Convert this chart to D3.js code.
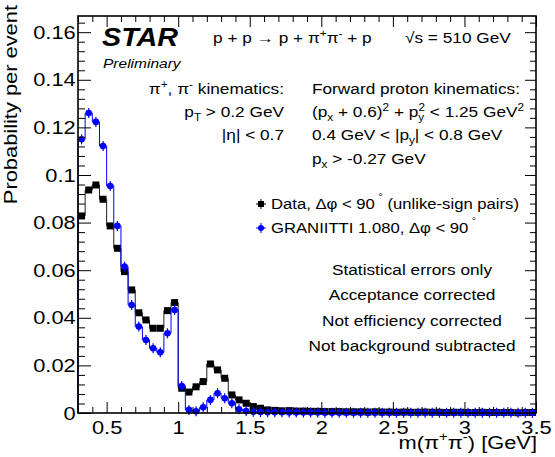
<!DOCTYPE html>
<html>
<head>
<meta charset="utf-8">
<script src="https://cdn.jsdelivr.net/npm/d3@7"></script>
<style>
  body { margin: 0; background: #fff; }
  text { font-family: "Liberation Sans", Arial, Helvetica, sans-serif; fill: #000; }
</style>
</head>
<body>
<div id="chart"></div>
<script>
// bin centres of m(pi+pi-) in GeV (bin width 0.05)
const massBins = [
  0.325, 0.375, 0.425, 0.475, 0.525, 0.575, 0.625, 0.675, 0.725, 0.775,
  0.825, 0.875, 0.925, 0.975, 1.025, 1.075, 1.125, 1.175, 1.225, 1.275,
  1.325, 1.375, 1.425, 1.475, 1.525, 1.575, 1.625, 1.675, 1.725, 1.775,
  1.825, 1.875, 1.925, 1.975, 2.025, 2.075, 2.125, 2.175, 2.225, 2.275,
  2.325, 2.375, 2.425, 2.475, 2.525, 2.575, 2.625, 2.675, 2.725, 2.775,
  2.825, 2.875, 2.925, 2.975, 3.025, 3.075, 3.125, 3.175, 3.225, 3.275,
  3.325, 3.375, 3.425, 3.475
];

// Data, dphi < 90 (unlike-sign pairs)
const dataProb = [
  0.0828, 0.0937, 0.0958, 0.0898, 0.0786, 0.0692, 0.0594, 0.0517, 0.0421, 0.0391,
  0.0356, 0.0356, 0.0430, 0.0464, 0.0104, 0.0088, 0.0110, 0.0132, 0.0206, 0.0181,
  0.0146, 0.0076, 0.0055, 0.0041, 0.0027, 0.0020, 0.0013, 0.0011, 0.0009, 0.0010,
  0.0008, 0.0008, 0.0007, 0.0007, 0.0006, 0.0006, 0.0006, 0.0005, 0.0005, 0.0005,
  0.0004, 0.0005, 0.0004, 0.0004, 0.0003, 0.0004, 0.0003, 0.0003, 0.0004, 0.0003,
  0.0003, 0.0002, 0.0003, 0.0003, 0.0002, 0.0002, 0.0003, 0.0002, 0.0002, 0.0002,
  0.0002, 0.0001, 0.0002, 0.0002
];

// GRANIITTI 1.080, dphi < 90
const graniittiProb = [
  0.1150, 0.1260, 0.1223, 0.1122, 0.0954, 0.0786, 0.0615, 0.0454, 0.0363, 0.0307,
  0.0272, 0.0255, 0.0335, 0.0433, 0.0113, 0.0013, 0.0007, 0.0024, 0.0055, 0.0083,
  0.0062, 0.0041, 0.0016, 0.0008, 0.0005, 0.0004, 0.0003, 0.0003, 0.0003, 0.0002,
  0.0002, 0.0002, 0.0002, 0.0002, 0.0001, 0.0001, 0.0001, 0.0001, 0.0001, 0.0001,
  0.0001, 0.0001, 0.0001, 0.0001, 0.0001, 0.0001, 0.0001, 0.0001, 0.0001, 0.0001,
  0.0001, 0.0001, 0.0001, 0.0001, 0.0001, 0.0001, 0.0001, 0.0001, 0.0001, 0.0001,
  0.0001, 0.0001, 0.0001, 0.0001
];

const xTickLabels = [0.5, 1, 1.5, 2, 2.5, 3, 3.5];
const yTickLabels = [0, 0.02, 0.04, 0.06, 0.08, 0.1, 0.12, 0.14, 0.16];

const width = 555, height = 457;
const margin = {top: 16, right: 19, bottom: 44, left: 78};
const binHalf = 0.025;
const SX = 1.15; // text is a bit wider than it is tall in the original

const svg = d3.select("#chart").append("svg")
    .attr("width", width)
    .attr("height", height);

const x = d3.scaleLinear().domain([0.3, 3.5]).range([margin.left, width - margin.right]);
const y = d3.scaleLinear().domain([0, 0.1668]).range([height - margin.bottom, margin.top]);

// text with sub/superscripts, stretched along its direction
function rich(parent, px, py, parts, opts = {}) {
    const size = opts.size || 15;
    const g = parent.append("g")
        .attr("transform", `translate(${px},${py})` + (opts.rotate ? ` rotate(${opts.rotate})` : "") + ` scale(${SX},1)`);
    const t = g.append("text")
        .attr("font-size", size)
        .attr("text-anchor", opts.anchor || "start")
        .attr("font-weight", opts.weight || null)
        .attr("font-style", opts.style || null);
    let cur = 0;
    parts.forEach(p => {
        const [str, kind, dx] = typeof p === "string" ? [p, null, 0] : p;
        const shift = kind === "sup" ? -0.42 : kind === "sub" ? 0.28 : kind === "deg" ? -0.62 : 0;
        const ts = t.append("tspan").text(str)
            .attr("dy", ((shift - cur) * size).toFixed(2));
        if (kind) ts.attr("font-size", size * 0.68);
        if (dx) ts.attr("dx", dx);
        cur = shift;
    });
    return t;
}

// histograms as steps
function stepPoints(vals) {
    const pts = [[x(massBins[0] - binHalf), y(0)]];
    massBins.forEach((m, i) => {
        pts.push([x(m - binHalf), y(vals[i])]);
        pts.push([x(m + binHalf), y(vals[i])]);
    });
    pts.push([x(massBins[massBins.length - 1] + binHalf), y(0)]);
    return pts;
}
const line = d3.line();

svg.append("path")
    .attr("d", line(stepPoints(dataProb)))
    .attr("fill", "none")
    .attr("stroke", "#222")
    .attr("stroke-width", 1);

svg.append("g").selectAll("rect")
    .data(massBins)
    .join("rect")
    .attr("x", (d) => x(d) - 3.5)
    .attr("y", (d, i) => y(dataProb[i]) - 3.5)
    .attr("width", 7)
    .attr("height", 7)
    .attr("fill", "#000");

svg.append("path")
    .attr("d", line(stepPoints(graniittiProb)))
    .attr("fill", "none")
    .attr("stroke", "#0000ff")
    .attr("stroke-width", 1);

const blue = svg.append("g").selectAll("g")
    .data(massBins)
    .join("g")
    .attr("transform", (d, i) => `translate(${x(d)},${y(graniittiProb[i])})`);
blue.append("line")
    .attr("y1", -5).attr("y2", 5)
    .attr("stroke", "#0000ff").attr("stroke-width", 1.2);
blue.append("circle")
    .attr("r", 3.3)
    .attr("fill", "#0000ff");

// axes: ticks inside the frame
const axisG = svg.append("g");
const xMinor = d3.range(0.3, 3.501, 0.1).filter(v => Math.abs(v * 2 - Math.round(v * 2)) > 1e-6);
const yMinor = d3.range(0, 0.1668, 0.004).filter(v => Math.abs(v * 50 - Math.round(v * 50)) > 1e-6);

function drawAxis(axis, transform) {
    const g = axisG.append("g").attr("transform", transform).call(axis);
    g.select(".domain").remove();
    g.selectAll("line").attr("stroke", "#000").attr("stroke-width", 1);
    return g;
}

const bottom = drawAxis(d3.axisBottom(x).tickValues(xTickLabels).tickSize(-11).tickPadding(8)
    .tickFormat(d3.format("~g")), `translate(0,${y(0)})`);
bottom.selectAll("text").attr("font-size", 19)
    .attr("font-family", "Liberation Sans, Arial, sans-serif")
    .attr("transform", `scale(${SX},1)`);
drawAxis(d3.axisBottom(x).tickValues(xMinor).tickSize(-6).tickFormat(""), `translate(0,${y(0)})`);
drawAxis(d3.axisTop(x).tickValues(xTickLabels).tickSize(-11).tickFormat(""), `translate(0,${margin.top})`);
drawAxis(d3.axisTop(x).tickValues(xMinor).tickSize(-6).tickFormat(""), `translate(0,${margin.top})`);

const left = drawAxis(d3.axisLeft(y).tickValues(yTickLabels).tickSize(-13).tickPadding(2)
    .tickFormat(d => d === 0 ? "0" : d3.format("~g")(d)), `translate(${margin.left},0)`);
left.selectAll("text").attr("font-size", 19)
    .attr("font-family", "Liberation Sans, Arial, sans-serif")
    .attr("transform", `scale(${SX},1)`);
drawAxis(d3.axisLeft(y).tickValues(yMinor).tickSize(-7).tickFormat(""), `translate(${margin.left},0)`);
drawAxis(d3.axisRight(y).tickValues(yTickLabels).tickSize(-11).tickFormat(""), `translate(${width - margin.right},0)`);
drawAxis(d3.axisRight(y).tickValues(yMinor).tickSize(-6).tickFormat(""), `translate(${width - margin.right},0)`);

// frame
svg.append("rect")
    .attr("x", margin.left)
    .attr("y", margin.top)
    .attr("width", width - margin.left - margin.right)
    .attr("height", height - margin.top - margin.bottom)
    .attr("fill", "none")
    .attr("stroke", "#000")
    .attr("stroke-width", 1.6);

// axis titles
rich(svg, 537, 449, ["m(π", ["+", "sup"], "π", ["-", "sup"], ") [GeV]"], {size: 19, anchor: "end"});
rich(svg, 17, 5, ["Probability per event"], {size: 19, anchor: "end", rotate: -90 });

// labels
const notes = svg.append("g");
rich(notes, 102, 46, ["STAR"], {size: 25, weight: "bold", style: "italic"});
rich(notes, 103, 68, ["Preliminary"], {size: 13.5, style: "italic"});
rich(notes, 213, 43, ["p + p → p + π", ["+", "sup"], "π", ["-", "sup"], " + p"]);
rich(notes, 405, 43, ["√s = 510 GeV"]);

rich(notes, 284, 94, ["π", ["+", "sup"], ", π", ["-", "sup"], " kinematics:"], {anchor: "end"});
rich(notes, 284, 117, ["p", ["T", "sub"], " > 0.2 GeV"], {anchor: "end"});
rich(notes, 284, 140, ["|η| < 0.7"], {anchor: "end"});

rich(notes, 312, 94, ["Forward proton kinematics:"]);
rich(notes, 312, 117, ["(p", ["x", "sub"], " + 0.6)", ["2", "sup"], " + p", ["y", "sub"], ["2", "sup", -5], " < 1.25 GeV", ["2", "sup"]]);
rich(notes, 312, 140, ["0.4 GeV < |p", ["y", "sub"], "| < 0.8 GeV"]);
rich(notes, 312, 164, ["p", ["x", "sub"], " > -0.27 GeV"]);

// legend
const legend = svg.append("g");
const leg1 = legend.append("g").attr("transform", "translate(261,204)");
leg1.append("line").attr("x1", -5).attr("x2", 5).attr("stroke", "#000");
leg1.append("line").attr("y1", -5).attr("y2", 5).attr("stroke", "#000");
leg1.append("rect").attr("x", -3).attr("y", -3).attr("width", 6).attr("height", 6).attr("fill", "#000");
rich(legend, 271, 209, ["Data, Δφ < 90", ["°", "deg", 3], " (unlike-sign pairs)"], {size: 14.5});

const leg2 = legend.append("g").attr("transform", "translate(261,228)");
leg2.append("line").attr("x1", -5).attr("x2", 5).attr("stroke", "#0000ff");
leg2.append("line").attr("y1", -5).attr("y2", 5).attr("stroke", "#0000ff");
leg2.append("circle").attr("r", 3).attr("fill", "#0000ff");
rich(legend, 271, 233, ["GRANIITTI 1.080, Δφ < 90", ["°", "deg", 3]], {size: 14.5});

const footer = ["Statistical errors only", "Acceptance corrected", "Not efficiency corrected", "Not background subtracted"];
footer.forEach((s, i) => rich(notes, 412, 275 + i * 25.3, [s], {anchor: "middle"}));
</script>
</body>
</html>
